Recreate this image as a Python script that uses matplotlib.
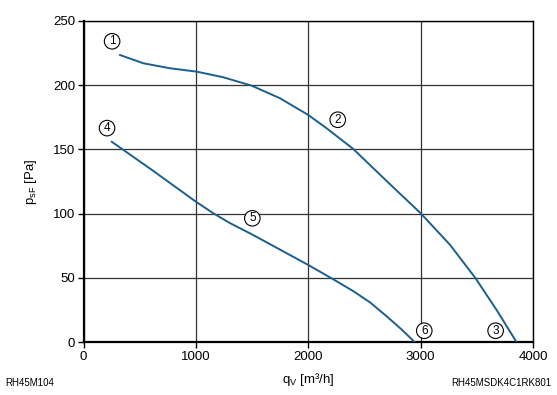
import numpy as np
import matplotlib
matplotlib.use("Agg")
import matplotlib.pyplot as plt

plt.rcParams["font.family"] = ["Liberation Sans", "DejaVu Sans"]
plt.rcParams["mathtext.fontset"] = "custom"
plt.rcParams["mathtext.rm"] = "Liberation Sans"
plt.rcParams["mathtext.it"] = "Liberation Sans"

# =============================================================================
# DATA
# =============================================================================
curve_hi_q = [325, 532, 770, 1007, 1244, 1496, 1748, 2000, 2164,
              2400, 2698, 3000, 3261, 3489, 3676, 3854]
curve_hi_p = [223.3, 216.9, 213, 210.4, 206, 199.5, 189.7, 176.7, 166.3,
              150.3, 125.3, 100.3, 75.8, 49.7, 25.1, 0]

curve_lo_q = [251, 600, 1000, 1155, 1300, 1481, 1615, 2000, 2208,
              2400, 2550, 2700, 2830, 2949]
curve_lo_p = [155.9, 134.5, 109.3, 100.3, 92.8, 84.7, 78.4, 60.1, 49.7,
              39.8, 31, 20, 10, 0]

point_labels = ["1", "2", "3", "4", "5", "6"]
point_q = [254, 2262, 3667, 209, 1502, 3032]
point_p = [234, 173, 9, 166.5, 96.4, 9]

x_ticks = [0, 1000, 2000, 3000, 4000]
y_ticks = [0, 50, 100, 150, 200, 250]

LINE_COLOR = "#1b5f8e"

# =============================================================================
# PLOT
# =============================================================================
fig = plt.figure(figsize=(5.57, 3.95), dpi=100)
ax = fig.add_axes([0.150, 0.1334, 0.807, 0.8142])

ax.plot(curve_hi_q, curve_hi_p, color=LINE_COLOR, linewidth=1.4, zorder=3,
        solid_joinstyle="round")
ax.plot(curve_lo_q, curve_lo_p, color=LINE_COLOR, linewidth=1.4, zorder=3,
        solid_joinstyle="round")

for lab, q, p in zip(point_labels, point_q, point_p):
    ax.text(q, p, lab, fontsize=8.5, ha="center", va="center", zorder=4,
            bbox=dict(boxstyle="circle,pad=0.15", fc="white", ec="black", lw=0.8))

ax.set_xlim(0, 4000)
ax.set_ylim(0, 250)
ax.set_xticks(x_ticks)
ax.set_yticks(y_ticks)
ax.tick_params(labelsize=9.5, length=4, width=1.0, direction="out", pad=2)
ax.grid(True, color="#333333", linewidth=0.9)
ax.set_axisbelow(True)

for side in ["top", "right"]:
    ax.spines[side].set_linewidth(1.0)
for side in ["left", "bottom"]:
    ax.spines[side].set_linewidth(1.6)

ax.set_xlabel(r"q$_\mathrm{V}$ [m³/h]", fontsize=9.5, labelpad=6)
ax.set_ylabel(r"p$_\mathrm{sF}$ [Pa]", fontsize=9.5, labelpad=10)

fig.text(0.009, 0.018, "RH45M104", fontsize=7, ha="left", va="bottom")
fig.text(0.99, 0.018, "RH45MSDK4C1RK801", fontsize=7, ha="right", va="bottom")

fig.savefig("out.png", dpi=100)
